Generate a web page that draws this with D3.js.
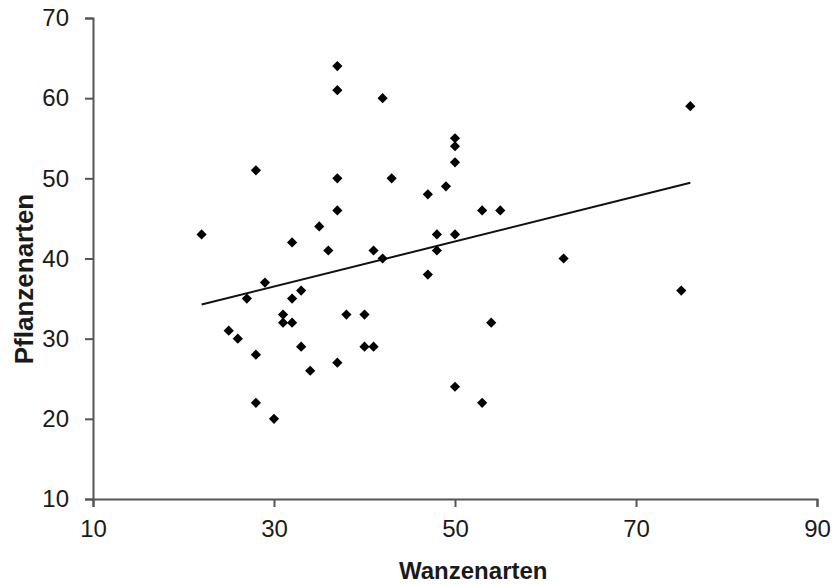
<!DOCTYPE html>
<html>
<head>
<meta charset="utf-8">
<script src="https://cdn.jsdelivr.net/npm/d3@7"></script>
<style>
  body { margin: 0; background: white; }
  text { font-family: "Liberation Sans", Arial, sans-serif; }
</style>
</head>
<body>
<div id="container"></div>
<script>
// Wanzenarten (x) vs. Pflanzenarten (y)
let wanzen = [22, 28, 37, 37, 42, 37, 43, 37, 35, 32, 36, 29, 27, 32, 33, 31, 31, 32, 25, 26,
              28, 33, 37, 34, 28, 30, 38, 40, 40, 41, 41, 42, 47, 49, 50, 50, 50, 48, 48, 50,
              47, 53, 55, 54, 50, 53, 62, 75, 76];
let pflanzen = [43, 51, 64, 61, 60, 50, 50, 46, 44, 42, 41, 37, 35, 35, 36, 33, 32, 32, 31, 30,
                28, 29, 27, 26, 22, 20, 33, 33, 29, 29, 41, 40, 48, 49, 55, 54, 52, 41, 43, 43,
                38, 46, 46, 32, 24, 22, 40, 36, 59];
let xTicks = [10, 30, 50, 70, 90];
let yTicks = [10, 20, 30, 40, 50, 60, 70];

let w = 838,
    h = 585;

let viz = d3.select('#container')
    .append('svg')
      .attr('width', w)
      .attr('height', h)
      .style('background', 'white');

function main() {
    let x = d3.scaleLinear().domain([10, 90]).range([93, 817]);
    let y = d3.scaleLinear().domain([10, 70]).range([499, 18]);

    let points = wanzen.map((d, i) => [d, pflanzen[i]]);

    // linear trend line (least squares, like the spreadsheet)
    let mx = d3.mean(wanzen), my = d3.mean(pflanzen);
    let sxy = d3.sum(points, p => (p[0] - mx) * (p[1] - my));
    let sxx = d3.sum(wanzen, v => (v - mx) * (v - mx));
    let slope = sxy / sxx, icpt = my - slope * mx;
    let x0 = d3.min(wanzen), x1 = d3.max(wanzen);

    // axes
    let xAxis = viz.append('g')
        .attr('transform', 'translate(0,' + y(10) + ')')
        .call(d3.axisBottom(x).tickValues(xTicks).tickSize(8).tickPadding(13));
    let yAxis = viz.append('g')
        .attr('transform', 'translate(' + x(10) + ',0)')
        .call(d3.axisLeft(y).tickValues(yTicks).tickSize(8).tickPadding(16));

    [xAxis, yAxis].forEach(a => {
        a.select('.domain').attr('stroke', '#555').attr('stroke-width', 2);
        a.selectAll('.tick line').attr('stroke', '#555').attr('stroke-width', 2);
        a.selectAll('.tick text')
            .attr('fill', '#1a1a1a')
            .attr('font-size', 24)
            .style('font-family', '"Liberation Sans", Arial, sans-serif');
    });

    viz.append('line')
        .attr('x1', x(x0)).attr('y1', y(slope * x0 + icpt))
        .attr('x2', x(x1)).attr('y2', y(slope * x1 + icpt))
        .attr('stroke', '#111')
        .attr('stroke-width', 2);

    let diamond = d3.symbol().type(d3.symbolSquare).size(52);
    viz.append('g').selectAll('path')
        .data(points)
        .join('path')
          .attr('d', diamond)
          .attr('transform', d => 'translate(' + x(d[0]) + ',' + y(d[1]) + ') rotate(45)')
          .attr('fill', 'black');

    // axis titles
    viz.append('text')
        .attr('x', 399)
        .attr('y', 579)
        .attr('font-size', 24)
        .attr('font-weight', 'bold')
        .attr('fill', '#1a1a1a')
        .text('Wanzenarten');
    viz.append('text')
        .attr('transform', 'translate(33,279) rotate(-90)')
        .attr('text-anchor', 'middle')
        .attr('font-size', 26)
        .attr('font-weight', 'bold')
        .attr('fill', '#1a1a1a')
        .text('Pflanzenarten');
}

main();
</script>
</body>
</html>
